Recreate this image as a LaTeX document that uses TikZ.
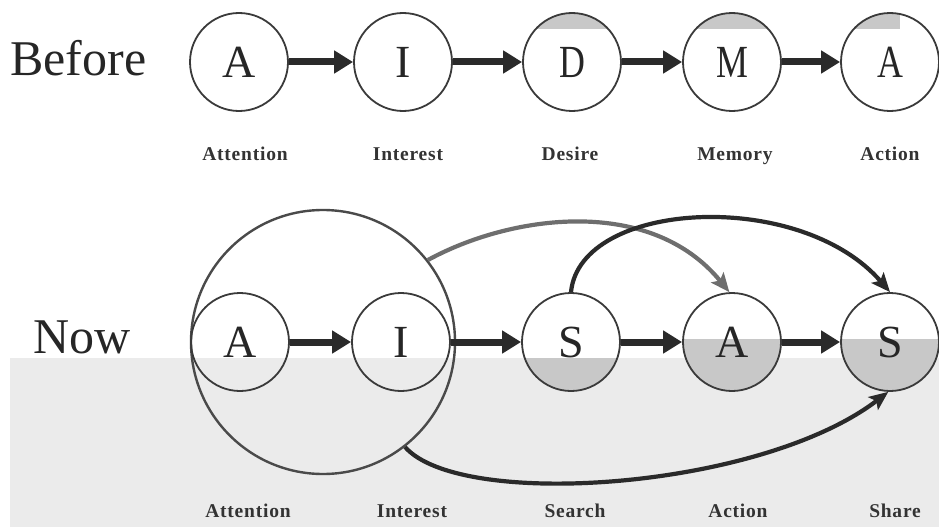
\documentclass[tikz,border=0pt]{standalone}
\usepackage{fontspec}
\usepackage{graphicx}
\setmainfont{Liberation Serif}
\usetikzlibrary{arrows.meta}
\definecolor{bgray}{HTML}{EBEBEB}
\definecolor{cgray}{HTML}{C8C8C8}
\definecolor{ink}{HTML}{3A3A3A}
\definecolor{flowink}{HTML}{2A2A2A}
\definecolor{arrowgray}{HTML}{6E6E6E}
\definecolor{bigink}{HTML}{4A4A4A}
\newcommand{\sxx}[1]{\scalebox{0.78}[1]{#1}}
\begin{document}
\begin{tikzpicture}[x=1pt,y=-1pt,
  stage/.style={circle,draw=ink,line width=1.8pt,minimum size=98pt,inner sep=0pt,
    text=black!85,font=\fontsize{46}{46}\selectfont},
  lab/.style={anchor=base,inner sep=0pt,text=black!80,font=\bfseries\fontsize{19.5}{19.5}\selectfont\addfontfeature{LetterSpace=4}},
  title/.style={anchor=base west,inner sep=0pt,text=black!85,font=\fontsize{50}{50}\selectfont},
  flow/.style={-{Triangle[length=19pt,width=22pt]},line width=7pt,draw=flowink},
  curv/.style={-{Stealth[length=19pt,width=16pt,inset=4pt]},line width=4.2pt,draw=flowink}]
\useasboundingbox (0,0) rectangle (939,527);
% background band
\fill[bgray] (10,358) rectangle (939,527);
% top shading strips
\begin{scope}\clip (572,62) circle[radius=49pt]; \fill[cgray] (510,0) rectangle (640,29);\end{scope}
\begin{scope}\clip (732,62) circle[radius=49pt]; \fill[cgray] (670,0) rectangle (800,29);\end{scope}
\begin{scope}\clip (890,62) circle[radius=49pt]; \fill[cgray] (830,0) rectangle (900,29);\end{scope}
% bottom shading
\begin{scope}\clip (571,342) circle[radius=49pt]; \fill[cgray] (510,358) rectangle (640,400);\end{scope}
\begin{scope}\clip (732,342) circle[radius=49pt]; \fill[cgray] (670,339) rectangle (800,400);\end{scope}
\begin{scope}\clip (890,342) circle[radius=49pt]; \fill[cgray] (830,339) rectangle (945,400);\end{scope}
% titles
\node[title] (before) at (10,75) {Before};
\node[title] (now) at (33,353) {Now};
% top row
\node[stage] (b1) at (239,62) {A};
\node[stage] (b2) at (403,62) {I};
\node[stage] (b3) at (572,62) {\sxx{D}};
\node[stage] (b4) at (732,62) {\sxx{M}};
\node[stage] (b5) at (890,62) {\sxx{A}};
\draw[flow] (b1) -- (b2);
\draw[flow] (b2) -- (b3);
\draw[flow] (b3) -- (b4);
\draw[flow] (b4) -- (b5);
\node[lab] (t1) at (245,160) {Attention};
\node[lab] (t2) at (408,160) {Interest};
\node[lab] (t3) at (570,160) {Desire};
\node[lab] (t4) at (735,160) {Memory};
\node[lab] (t5) at (890,160) {Action};
% bottom row
\node[circle,draw=bigink,line width=2.4pt,minimum size=264pt,inner sep=0pt] (big) at (323,342) {};
\node[stage] (n1) at (240,342) {A};
\node[stage] (n2) at (401,342) {I};
\node[stage] (n3) at (571,342) {S};
\node[stage] (n4) at (732,342) {A};
\node[stage] (n5) at (890,342) {S};
\draw[flow] (n1) -- (n2);
\draw[flow] (n2) -- (n3);
\draw[flow] (n3) -- (n4);
\draw[flow] (n4) -- (n5);
\draw[curv,draw=arrowgray] (big.38) .. controls (510,215) and (650,195) .. (n4.93);
\draw[curv] (n3.north) .. controls (580,200) and (800,188) .. (n5.north);
\draw[curv] (big.-52) .. controls (460,510) and (760,490) .. (n5.-92);
\node[lab] (l1) at (248,517) {Attention};
\node[lab] (l2) at (412,517) {Interest};
\node[lab] (l3) at (575,517) {Search};
\node[lab] (l4) at (738,517) {Action};
\node[lab] (l5) at (895,517) {Share};
\end{tikzpicture}
\end{document}
